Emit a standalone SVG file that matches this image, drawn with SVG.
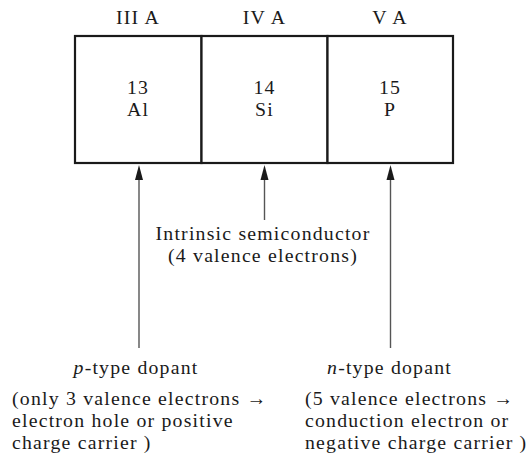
<svg xmlns="http://www.w3.org/2000/svg" width="532" height="467" viewBox="0 0 532 467">
<style>
text{font-family:"Liberation Serif","Times New Roman",serif;font-size:19.8px;letter-spacing:1.2px;fill:#1a1a1a}
.c{text-anchor:middle}
.box{fill:#fff;stroke:#1a1a1a;stroke-width:2.2}
.ln{stroke:#555;stroke-width:1.4;fill:none}
.ah{fill:#1a1a1a}
</style>
<rect width="532" height="467" fill="#fff"/>
<g id="labels">
<text class="c" x="138" y="24">III A</text>
<text class="c" x="264.5" y="24">IV A</text>
<text class="c" x="390" y="24">V A</text>
</g>
<g id="al">
<rect class="box" x="75" y="36" width="126.5" height="127"/>
<text class="c" x="138" y="94">13</text>
<text class="c" x="138" y="116">Al</text>
</g>
<g id="si">
<rect class="box" x="201.5" y="36" width="126" height="127"/>
<text class="c" x="264.5" y="94">14</text>
<text class="c" x="264.5" y="116">Si</text>
</g>
<g id="p">
<rect class="box" x="327.5" y="36" width="125.5" height="127"/>
<text class="c" x="390" y="94">15</text>
<text class="c" x="390" y="116">P</text>
</g>
<g id="connectors">
<line class="ln" x1="139" y1="348" x2="139" y2="180"/>
<path class="ah" d="M139 165 L143 180 L135 180 Z"/>
<line class="ln" x1="264.5" y1="220" x2="264.5" y2="180"/>
<path class="ah" d="M264.5 165 L268.5 180 L260.5 180 Z"/>
<line class="ln" x1="390.5" y1="348" x2="390.5" y2="180"/>
<path class="ah" d="M390.5 165 L394.5 180 L386.5 180 Z"/>
</g>
<g id="intrinsic">
<text class="c" x="263" y="240">Intrinsic semiconductor</text>
<text class="c" x="263" y="262">(4 valence electrons)</text>
</g>
<g id="ptype">
<text class="c" x="136" y="374"><tspan font-style="italic">p</tspan>-type dopant</text>
<text x="12" y="405">(only 3 valence electrons →</text>
<text x="12" y="427">electron hole or positive</text>
<text x="12" y="449">charge carrier )</text>
</g>
<g id="ntype">
<text class="c" x="389.5" y="374"><tspan font-style="italic">n</tspan>-type dopant</text>
<text x="305" y="405">(5 valence electrons →</text>
<text x="305" y="427">conduction electron or</text>
<text x="305" y="449">negative charge carrier )</text>
</g>
</svg>
